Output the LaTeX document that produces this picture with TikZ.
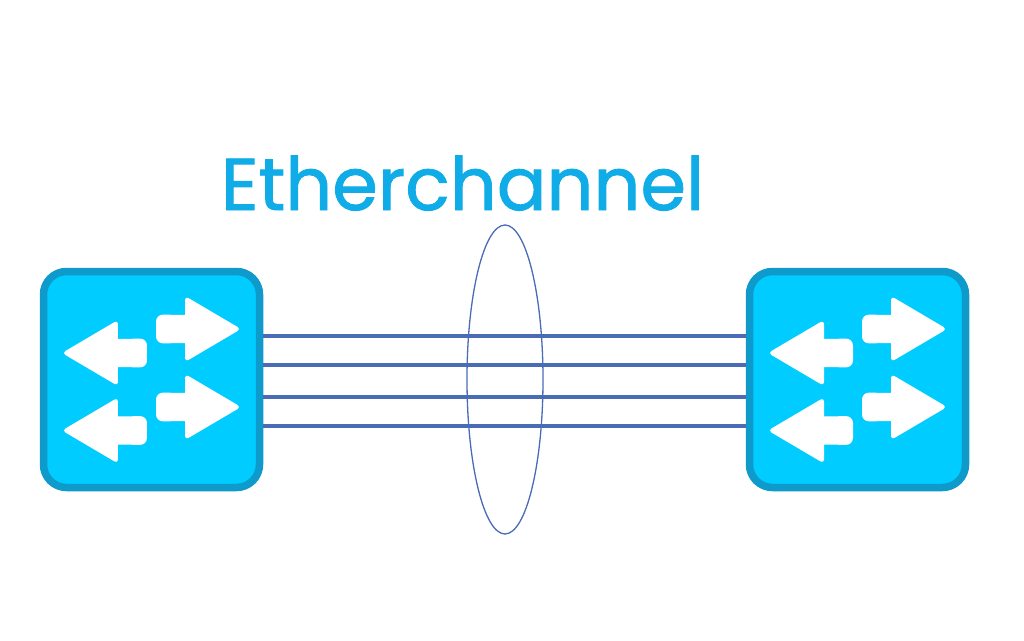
\documentclass[tikz,border=0pt]{standalone}
\usepackage{fontspec}
\setmainfont{Poppins}
\newfontfamily\titlefont[FakeBold=1.2]{Poppins}
\usetikzlibrary{calc,shapes.geometric}
\definecolor{swfill}{HTML}{00CCFF}
\definecolor{swedge}{HTML}{0E9ACB}
\definecolor{linkblue}{HTML}{4A6BB5}
\definecolor{titleblue}{HTML}{0FACE8}
\tikzset{
  switchbox/.style={draw=swedge, fill=swfill, line width=0.75mm, rounded corners=2.3mm,
    minimum size=21.6mm, inner sep=0pt},
  linkline/.style={draw=linkblue, line width=0.35mm},
  bundle/.style={draw=linkblue, line width=0.13mm},
  whitearrow/.pic={
    \fill[white] [rounded corners=0.4mm]
      (0.56,0) -- (0,0.33) [sharp corners] -- (0,0.14) [rounded corners=0.7mm] -- (-0.29,0.145)
      -- (-0.29,-0.145) [sharp corners] -- (0,-0.14) [rounded corners=0.4mm] -- (0,-0.33) -- cycle;
  }
}
\begin{document}
\begin{tikzpicture}
  \useasboundingbox (0,0) rectangle (10.24,6.4);
  \node[switchbox] (swleft) at (1.515,2.605) {};
  \node[switchbox] (swright) at (8.575,2.605) {};
  \node[text=titleblue, font=\titlefont\fontsize{20.9pt}{24pt}\selectfont, inner sep=0pt, anchor=base] (title) at (4.625,4.30) {Etherchannel};
  \pic[xscale=-1] at ($(swleft)+(-0.335,0.265)$) {whitearrow};
  \pic[xscale=-1] at ($(swleft)+(-0.335,-0.51)$) {whitearrow};
  \pic at ($(swleft)+(0.335,0.505)$) {whitearrow};
  \pic at ($(swleft)+(0.335,-0.275)$) {whitearrow};
  \pic[xscale=-1] at ($(swright)+(-0.335,0.265)$) {whitearrow};
  \pic[xscale=-1] at ($(swright)+(-0.335,-0.51)$) {whitearrow};
  \pic at ($(swright)+(0.335,0.505)$) {whitearrow};
  \pic at ($(swright)+(0.335,-0.275)$) {whitearrow};
  \draw
    (swleft.east |- 0,3.04) coordinate (l1)
    (swleft.east |- 0,2.75) coordinate (l2)
    (swleft.east |- 0,2.43) coordinate (l3)
    (swleft.east |- 0,2.14) coordinate (l4)
    (swright.west |- 0,3.04) coordinate (r1)
    (swright.west |- 0,2.75) coordinate (r2)
    (swright.west |- 0,2.43) coordinate (r3)
    (swright.west |- 0,2.14) coordinate (r4);
  \begin{scope}[linkline]
    \draw (l1) to (r1);
    \draw (l2) to (r2);
    \draw (l3) to (r3);
    \draw (l4) to (r4);
  \end{scope}
  \node[bundle, shape=ellipse, minimum width=7.6mm, minimum height=30.9mm, inner sep=0pt] (lag) at (5.05,2.605) {};
\end{tikzpicture}
\end{document}
